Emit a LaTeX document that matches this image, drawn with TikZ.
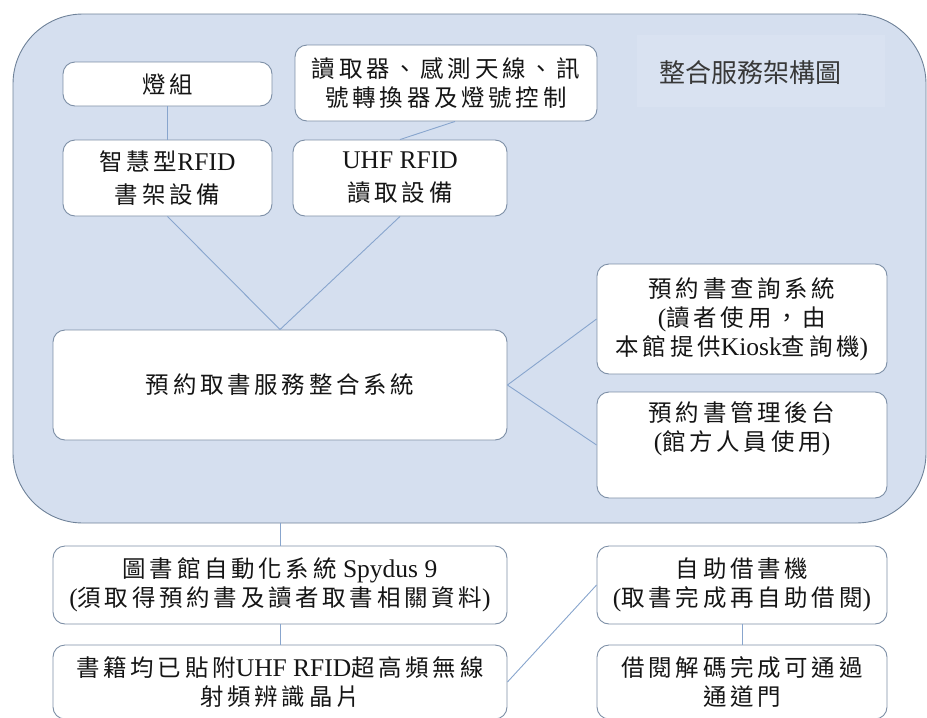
\documentclass[tikz,border=0pt]{standalone}
\usepackage{fontspec}
\setmainfont{Liberation Serif}
\newfontfamily\cjk[Scale=0.92,LetterSpace=16]{Noto Sans CJK TC}
\newfontfamily\cjktitle{Noto Sans CJK TC}
\newcommand\zh[1]{{\cjk #1}}
\definecolor{framefill}{HTML}{D5DFEF}
\definecolor{titlefill}{HTML}{D9E2F1}
\definecolor{frameline}{HTML}{6F8299}
\definecolor{boxline}{HTML}{7D8FA6}
\definecolor{connline}{HTML}{88A5CD}
\definecolor{txt}{HTML}{151515}
\tikzset{
  bigframe/.style={draw=frameline, fill=framefill, line width=0.9pt, rounded corners=70pt, inner sep=0pt},
  box/.style={draw=boxline, fill=white, line width=0.9pt, rounded corners=12pt, inner sep=0pt,
    align=center, text=txt, font=\fontsize{25.5}{29}\selectfont},
  conn/.style={draw=connline, line width=0.9pt},
}
\begin{document}
\begin{tikzpicture}[x=1pt,y=-1pt]
\useasboundingbox (0,0) rectangle (927,718);
\node[bigframe, minimum width=913pt, minimum height=509pt] (frame) at (469.5,268.5) {};
\node[fill=titlefill, minimum width=248pt, minimum height=72pt, inner sep=0pt] (titlebg) at (761,71) {};
\node[text=txt!85, font=\cjktitle\fontsize{26}{30}\selectfont, inner sep=0pt] (title) at (750,73) {整合服務架構圖};

\node[box, minimum width=209pt, minimum height=44pt] (lamp) at (167.5,84) {\zh{燈組}};
\node[box, minimum width=302pt, minimum height=76pt] (reader) at (446,83) {\zh{讀取器、感測天線、訊}\\\zh{號轉換器及燈號控制}};
\node[box, minimum width=209pt, minimum height=76pt] (smart) at (167.5,178) {\zh{智慧型}RFID\\[4pt]\zh{書架設備}};
\node[box, minimum width=214pt, minimum height=76pt] (uhf) at (400,178) {UHF RFID\\[4pt]\zh{讀取設備}};
\node[box, minimum width=454pt, minimum height=110pt] (main) at (280,385) {\zh{預約取書服務整合系統}};
\node[box, minimum width=290pt, minimum height=110pt] (query) at (742,319) {\zh{預約書查詢系統}\\(\zh{讀者使用，由}\\\zh{本館提供}Kiosk\zh{查詢機})};
\node[box, minimum width=290pt, minimum height=106pt] (admin) at (742,445) {\zh{預約書管理後台}\\(\zh{館方人員使用})\\\strut};
\node[box, minimum width=454pt, minimum height=78pt] (lib) at (280,585) {\zh{圖書館自動化系統} Spydus 9\\(\zh{須取得預約書及讀者取書相關資料})};
\node[box, minimum width=454pt, minimum height=74pt] (books) at (280,682) {\zh{書籍均已貼附}UHF RFID\zh{超高頻無線}\\\zh{射頻辨識晶片}};
\node[box, minimum width=290pt, minimum height=78pt] (self) at (742,585) {\zh{自助借書機}\\(\zh{取書完成再自助借閱})};
\node[box, minimum width=290pt, minimum height=74pt] (gate) at (742,682) {\zh{借閱解碼完成可通過}\\\zh{通道門}};

\draw[conn] (lamp.south) -- (smart.north);
\draw[conn] ([xshift=9pt]reader.south) -- (uhf.north);
\draw[conn] (smart.south) -- (main.north);
\draw[conn] (uhf.south) -- (main.north);
\draw[conn] (main.east) -- (query.west);
\draw[conn] (main.east) -- (admin.west);
\draw[conn] (lib.north |- frame.south) -- (lib.north);
\draw[conn] (lib.south) -- (books.north);
\draw[conn] (books.east) -- (self.west);
\draw[conn] (self.south) -- (gate.north);
\end{tikzpicture}
\end{document}
